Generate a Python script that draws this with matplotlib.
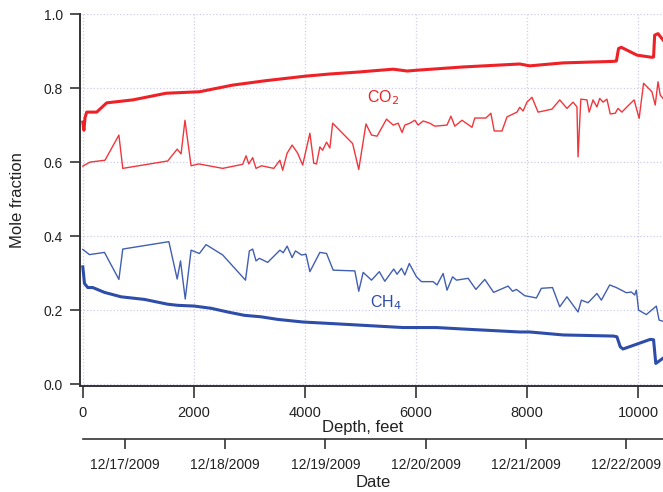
import datetime as dt
import matplotlib
matplotlib.use("Agg")
import matplotlib.pyplot as plt
import matplotlib.dates as mdates

plt.rcParams['font.family'] = ['Liberation Sans', 'DejaVu Sans']

# ---- data (depth in feet, mole fraction) ----
co2_cont_depth = [0, 20, 40, 70, 250, 430, 900, 1500, 2100, 2700, 3300, 4000,
                  4450, 4940, 5590, 5840, 6000, 6850, 7870, 8050, 8650, 9550,
                  9610, 9650, 9700, 9980, 10250, 10280, 10300, 10360, 10450]
co2_cont = [0.708, 0.686, 0.72, 0.735, 0.735, 0.76, 0.768, 0.786, 0.79, 0.808,
            0.82, 0.832, 0.838, 0.843, 0.851, 0.846, 0.848, 0.857, 0.865, 0.86,
            0.868, 0.872, 0.873, 0.907, 0.91, 0.889, 0.883, 0.884, 0.943, 0.947, 0.93]

co2_disc_depth = [0, 130, 400, 650, 720, 1530, 1700, 1770, 1840, 1950, 2090,
                  2520, 2880, 2940, 2990, 3060, 3120, 3220, 3440, 3550, 3600,
                  3680, 3770, 3870, 3960, 4090, 4160, 4210, 4270, 4320, 4390,
                  4450, 4500, 4860, 4970, 5100, 5200, 5300, 5470, 5590, 5680,
                  5750, 5800, 5890, 5980, 6040, 6130, 6250, 6340, 6560, 6630,
                  6700, 6830, 7010, 7060, 7260, 7350, 7410, 7550, 7640, 7820,
                  7870, 7930, 8000, 8090, 8200, 8450, 8590, 8720, 8830, 8900,
                  8920, 8970, 9080, 9120, 9190, 9260, 9310, 9370, 9440, 9500,
                  9590, 9640, 9710, 9800, 9930, 10020, 10100, 10250, 10310,
                  10360, 10400, 10450]
co2_disc = [0.589, 0.6, 0.605, 0.673, 0.583, 0.603, 0.635, 0.622, 0.713, 0.59,
            0.595, 0.583, 0.594, 0.617, 0.595, 0.612, 0.583, 0.59, 0.583, 0.605,
            0.578, 0.624, 0.646, 0.624, 0.592, 0.678, 0.597, 0.595, 0.641, 0.632,
            0.654, 0.638, 0.705, 0.65, 0.58, 0.703, 0.673, 0.67, 0.716, 0.70,
            0.705, 0.68, 0.70, 0.705, 0.713, 0.70, 0.711, 0.705, 0.697, 0.70,
            0.724, 0.697, 0.713, 0.694, 0.719, 0.719, 0.732, 0.684, 0.684, 0.722,
            0.735, 0.748, 0.738, 0.762, 0.775, 0.735, 0.743, 0.768, 0.745, 0.762,
            0.749, 0.614, 0.77, 0.768, 0.735, 0.768, 0.749, 0.772, 0.762, 0.77,
            0.73, 0.732, 0.745, 0.735, 0.749, 0.768, 0.718, 0.813, 0.79, 0.754,
            0.817, 0.781, 0.772]

ch4_cont_depth = [0, 15, 30, 90, 180, 390, 690, 1110, 1530, 1710, 2010, 2310,
                  2610, 2910, 3210, 3510, 3960, 4450, 5050, 5770, 6370, 6850,
                  7870, 8050, 8650, 9560, 9620, 9680, 9730, 10220, 10280,
                  10320, 10450]
ch4_cont = [0.317, 0.295, 0.272, 0.261, 0.261, 0.248, 0.236, 0.229, 0.216,
            0.213, 0.211, 0.205, 0.195, 0.186, 0.182, 0.175, 0.168, 0.164,
            0.159, 0.153, 0.153, 0.149, 0.141, 0.141, 0.133, 0.13, 0.128,
            0.101, 0.095, 0.121, 0.12, 0.056, 0.07]

ch4_disc_depth = [0, 120, 390, 650, 720, 1550, 1700, 1760, 1845, 1950, 2100,
                  2220, 2520, 2930, 3000, 3060, 3120, 3180, 3330, 3550, 3610,
                  3680, 3770, 3830, 3940, 4020, 4090, 4270, 4390, 4510, 4900,
                  4970, 5050, 5200, 5340, 5440, 5600, 5660, 5740, 5800, 5880,
                  6010, 6100, 6310, 6380, 6490, 6560, 6660, 6730, 6940, 7080,
                  7240, 7400, 7660, 7740, 7810, 7960, 8170, 8260, 8460, 8590,
                  8720, 8920, 8980, 9100, 9260, 9340, 9490, 9610, 9700, 9790,
                  9880, 9940, 9970, 10010, 10150, 10330, 10380, 10450]
ch4_disc = [0.364, 0.350, 0.356, 0.283, 0.365, 0.385, 0.284, 0.333, 0.23, 0.362,
            0.353, 0.377, 0.349, 0.281, 0.36, 0.365, 0.333, 0.34, 0.329, 0.362,
            0.355, 0.373, 0.342, 0.36, 0.349, 0.351, 0.304, 0.356, 0.353, 0.308,
            0.306, 0.251, 0.302, 0.281, 0.304, 0.278, 0.311, 0.297, 0.313, 0.295,
            0.326, 0.29, 0.277, 0.277, 0.268, 0.299, 0.254, 0.29, 0.281, 0.286,
            0.256, 0.283, 0.248, 0.265, 0.251, 0.256, 0.239, 0.233, 0.259, 0.261,
            0.209, 0.236, 0.195, 0.227, 0.22, 0.245, 0.227, 0.268, 0.261, 0.254,
            0.247, 0.249, 0.241, 0.254, 0.2, 0.188, 0.211, 0.173, 0.17]

depth_ticks = [0, 2000, 4000, 6000, 8000, 10000]
mole_ticks = [0.0, 0.2, 0.4, 0.6, 0.8, 1.0]
date_start = dt.datetime(2009, 12, 16, 13, 57)
date_end = dt.datetime(2009, 12, 22, 8, 51)

RED = '#ee2127'
BLUE = '#2d4da8'
AXC = '#333333'
GRID = '#cdcdea'

fig = plt.figure(figsize=(6.63, 4.92), dpi=100)
ax = fig.add_axes([0.1207, 0.2154, 0.8793, 0.7561])

ax.plot(co2_disc_depth, co2_disc, color=RED, lw=1.0, alpha=0.9)
ax.plot(co2_cont_depth, co2_cont, color=RED, lw=2.2)
ax.plot(ch4_disc_depth, ch4_disc, color=BLUE, lw=1.0, alpha=0.9)
ax.plot(ch4_cont_depth, ch4_cont, color=BLUE, lw=2.2)

ax.text(5400, 0.775, 'CO$_2$', color=RED, fontsize=11.5, ha='center', va='center')
ax.text(5450, 0.219, 'CH$_4$', color=BLUE, fontsize=11.5, ha='center', va='center')

ax.set_xlim(-50, 10450)
ax.set_ylim(-0.005, 1.0)
ax.set_xticks(depth_ticks)
ax.set_yticks(mole_ticks)
ax.set_yticklabels([f'{v:.1f}' for v in mole_ticks])
ax.grid(True, color=GRID, ls=':', lw=0.9)
ax.set_axisbelow(True)
for s in ['top', 'right']:
    ax.spines[s].set_visible(False)
for s in ['left', 'bottom']:
    ax.spines[s].set_color(AXC)
    ax.spines[s].set_linewidth(1.4)
ax.tick_params(axis='x', length=8.5, width=1.2, color=AXC, pad=6, labelsize=10.5, labelcolor='#222222')
ax.tick_params(axis='y', length=7.5, width=1.2, color=AXC, pad=5, labelsize=10, labelcolor='#222222')
ax.set_xlabel('Depth, feet', fontsize=12, color='#222222')
ax.xaxis.set_label_coords(0.485, -0.092)
ax.set_ylabel('Mole fraction', fontsize=12, color='#222222')
ax.yaxis.set_label_coords(-0.094, 0.5)

# second (date) axis below the depth axis
dax = fig.add_axes([83 / 663, 1 - 439 / 492, 1 - 83 / 663, 0.001])
dax.patch.set_visible(False)
for s in ['top', 'right', 'left']:
    dax.spines[s].set_visible(False)
dax.spines['bottom'].set_color(AXC)
dax.spines['bottom'].set_linewidth(1.2)
dax.set_yticks([])
dax.set_xlim(mdates.date2num(date_start), mdates.date2num(date_end))
dax.xaxis.set_major_locator(mdates.DayLocator())
dax.xaxis.set_major_formatter(mdates.DateFormatter('%m/%d/%Y'))
dax.tick_params(axis='x', length=7.5, width=1.2, color=AXC, pad=6, labelsize=10, labelcolor='#222222')
dax.set_xlabel('Date', fontsize=12, color='#222222', labelpad=2)

fig.savefig('out.png', dpi=100)
